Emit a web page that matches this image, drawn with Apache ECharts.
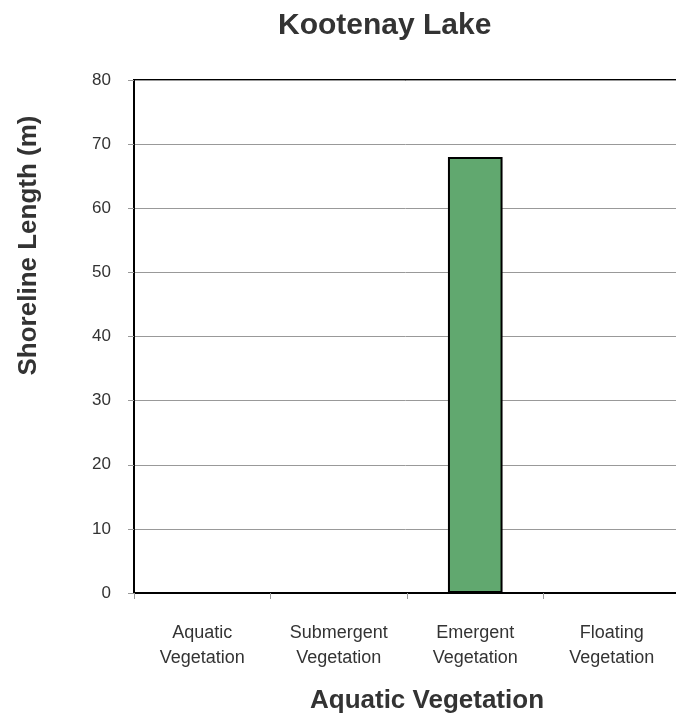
<!DOCTYPE html>
<html>
<head>
<meta charset="utf-8">
<script src="https://cdn.jsdelivr.net/npm/echarts@6/dist/echarts.min.js"></script>
<style>
  html, body { margin: 0; padding: 0; background: #fff; }
  #chart { width: 676px; height: 717px; }
</style>
</head>
<body>
<div id="chart"></div>
<script>
const categories = ['Aquatic\nVegetation', 'Submergent\nVegetation', 'Emergent\nVegetation', 'Floating\nVegetation']
const shorelineLength = [0, 0, 68, 0]
const yTicks = { min: 0, max: 80, interval: 10 }

const font = 'Liberation Sans, Arial, sans-serif'
const chart = echarts.init(document.getElementById('chart'))

const option = {
  backgroundColor: '#fff',
  animation: false,
  title: {
    text: 'Kootenay Lake',
    left: 273,
    top: 6,
    textStyle: { fontFamily: font, fontSize: 30, fontWeight: 'bold', color: '#333' }
  },
  grid: {
    left: 134,
    top: 80,
    width: 546,
    height: 513,
    outerBoundsMode: 'none',
    show: true,
    borderColor: '#000',
    borderWidth: 2
  },
  xAxis: {
    type: 'category',
    data: categories,
    name: 'Aquatic Vegetation',
    nameLocation: 'middle',
    nameGap: 95,
    nameMoveOverlap: false,
    nameTextStyle: {
      fontFamily: font, fontSize: 26, fontWeight: 'bold', color: '#333',
      padding: [0, 0, 0, 40]
    },
    axisLine: { lineStyle: { color: '#000', width: 2 } },
    axisTick: { show: true, length: 6, lineStyle: { color: '#999' } },
    axisLabel: {
      fontFamily: font, fontSize: 18, color: '#333', lineHeight: 25, margin: 28, interval: 0
    }
  },
  yAxis: {
    type: 'value',
    min: yTicks.min,
    max: yTicks.max,
    interval: yTicks.interval,
    name: 'Shoreline Length (m)',
    nameLocation: 'middle',
    nameGap: 92,
    nameMoveOverlap: false,
    nameTextStyle: {
      fontFamily: font, fontSize: 26, fontWeight: 'bold', color: '#333',
      padding: [0, 0, 0, 182]
    },
    axisLine: { show: true, lineStyle: { color: '#000', width: 2 } },
    axisTick: { show: true, length: 6, lineStyle: { color: '#999' } },
    axisLabel: { fontFamily: font, fontSize: 17, color: '#333', margin: 23 },
    splitLine: { lineStyle: { color: '#999', width: 1 } }
  },
  series: [{
    type: 'bar',
    data: shorelineLength,
    barWidth: '40%',
    itemStyle: { color: '#61a86f', borderColor: '#000', borderWidth: 2 }
  }]
}

chart.setOption(option)
</script>
</body>
</html>
